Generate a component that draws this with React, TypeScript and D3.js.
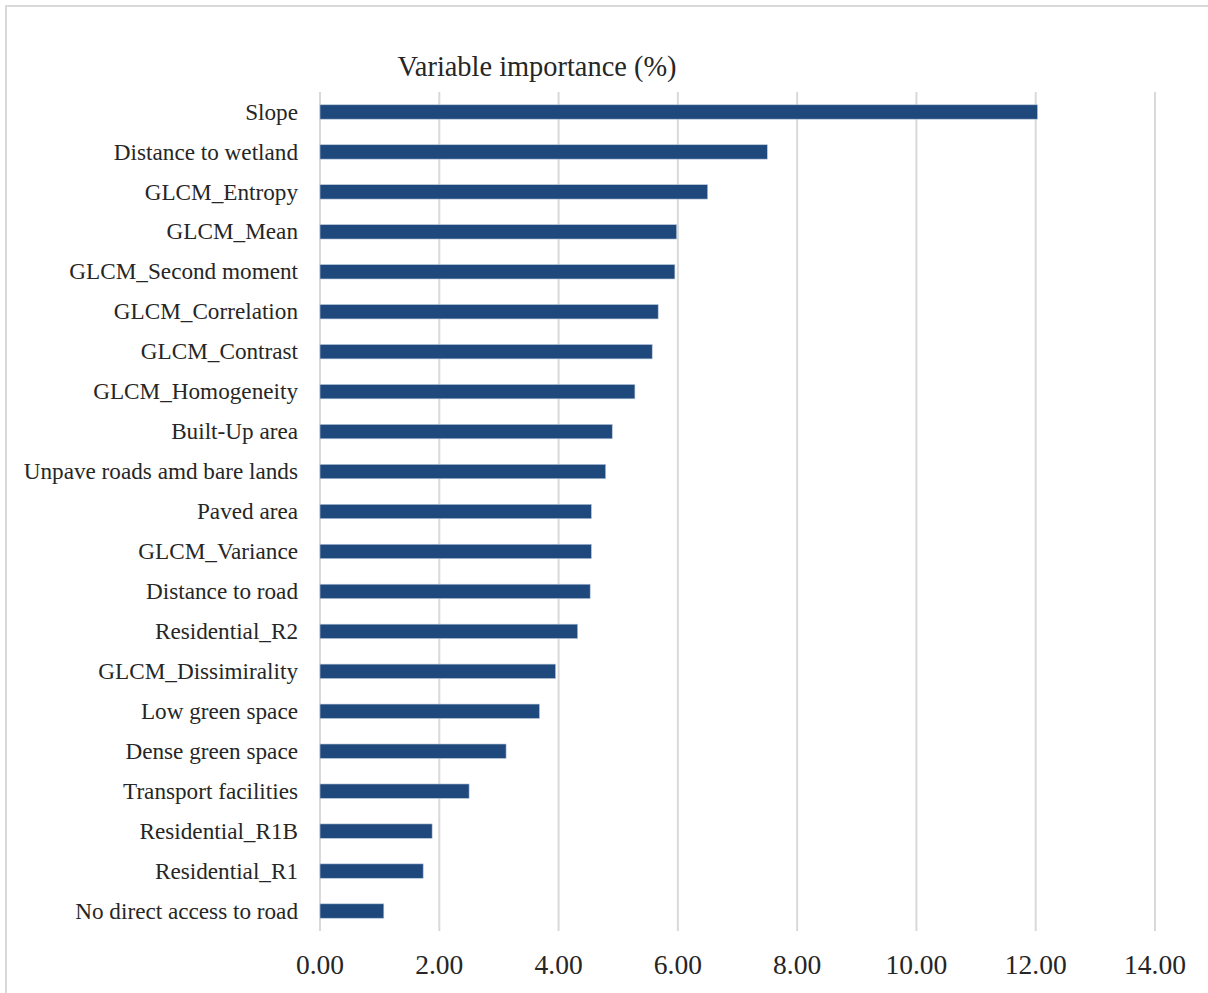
import React from "react";
import * as d3 from "d3";

const categories: string[] = [
  "Slope",
  "Distance to wetland",
  "GLCM_Entropy",
  "GLCM_Mean",
  "GLCM_Second moment",
  "GLCM_Correlation",
  "GLCM_Contrast",
  "GLCM_Homogeneity",
  "Built-Up area",
  "Unpave roads amd bare lands",
  "Paved area",
  "GLCM_Variance",
  "Distance to road",
  "Residential_R2",
  "GLCM_Dissimirality",
  "Low green space",
  "Dense green space",
  "Transport facilities",
  "Residential_R1B",
  "Residential_R1",
  "No direct access to road",
];

const importance: number[] = [
  12.03, 7.5, 6.5, 5.98, 5.95, 5.67, 5.57, 5.28, 4.9, 4.79, 4.55, 4.55, 4.53,
  4.32, 3.95, 3.68, 3.12, 2.5, 1.88, 1.73, 1.07,
];

const xTicks: number[] = [0, 2, 4, 6, 8, 10, 12, 14];
const title = "Variable importance (%)";

const W = 1208;
const H = 993;
const FONT = "'Liberation Serif', 'DejaVu Serif', serif";

export default function App() {
  const x = d3.scaleLinear().domain([0, 14]).range([320, 1155]);
  const y = d3.scaleBand<string>().domain(categories).range([92, 931]).paddingInner(0.64).paddingOuter(0.32);

  return (
    <svg
      width={W}
      height={H}
      style={{ position: "absolute", left: 0, top: 0, background: "#fff" }}
    >
      <rect x={0} y={0} width={W} height={H} fill="#fff" />
      <rect x={6} y={6} width={W + 10} height={H + 10} fill="none" stroke="#d9d9d9" strokeWidth={2} />
      <text x={537} y={76} textAnchor="middle" fontFamily={FONT} fontSize={28.4} fill="#262626">
        {title}
      </text>
      {xTicks.map((t) => (
        <line key={"g" + t} x1={x(t)} x2={x(t)} y1={92} y2={931} stroke="#d9d9d9" strokeWidth={2} />
      ))}
      {categories.map((c, i) => (
        <rect
          key={c}
          x={x(0)}
          y={y(c)}
          width={x(importance[i]) - x(0)}
          height={y.bandwidth()}
          fill="#1f497d"
          stroke="#b8c7da"
          strokeWidth={0.6}
        />
      ))}
      {categories.map((c) => (
        <text
          key={"l" + c}
          x={298}
          y={(y(c) as number) + y.bandwidth() / 2}
          dy="0.33em"
          textAnchor="end"
          fontFamily={FONT}
          fontSize={23.2}
          fill="#262626"
        >
          {c}
        </text>
      ))}
      {xTicks.map((t) => (
        <text
          key={"t" + t}
          x={x(t)}
          y={974}
          textAnchor="middle"
          fontFamily={FONT}
          fontSize={27.5}
          fill="#262626"
        >
          {d3.format(".2f")(t)}
        </text>
      ))}
    </svg>
  );
}
